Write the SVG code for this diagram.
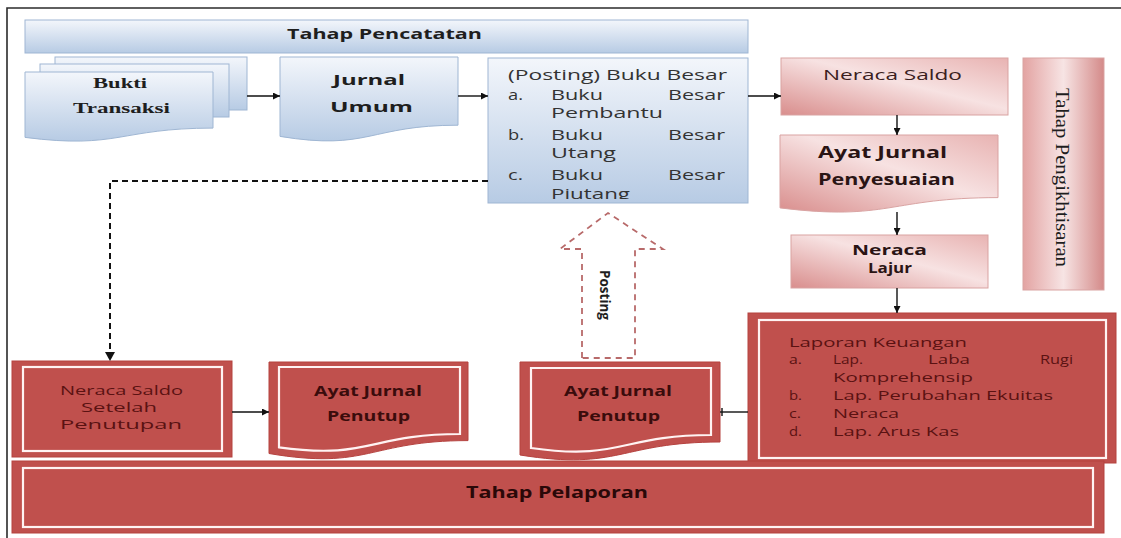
<svg xmlns="http://www.w3.org/2000/svg" width="1121" height="538" viewBox="0 0 1121 538">
<style>
.frame{stroke:#2b2b2b;stroke-width:1.6;fill:none}
.blue{fill:url(#blueGrad);stroke:#9fb6d3;stroke-width:1}
.pink{fill:url(#pinkGrad);stroke:#d9a3a2;stroke-width:1}
.pinkv{fill:url(#pinkGradV);stroke:#d9a3a2;stroke-width:1}
.red{fill:#c0504d;stroke:#b5423f;stroke-width:1}
.inner{fill:none;stroke:#fff3f3;stroke-width:2.2}
.conn{stroke:#111;stroke-width:1.4;fill:none}
.dash{stroke:#111;stroke-width:2;fill:none;stroke-dasharray:6 4}
.post{fill:#fff;stroke:#b86a6a;stroke-width:1.8;stroke-dasharray:6 5}
.sb{font-family:"Open Sans","DejaVu Sans",sans-serif;font-weight:bold;fill:#1e1e1e}
.sn{font-family:"Open Sans","DejaVu Sans",sans-serif;fill:#333}
.ser{font-family:"Liberation Serif","Times New Roman",serif;fill:#1e1e1e}
.rt{font-family:"Open Sans","DejaVu Sans",sans-serif;fill:#5a1212}
.rb{font-family:"Open Sans","DejaVu Sans",sans-serif;font-weight:bold;fill:#3a0c0c}
</style>
<defs>
<linearGradient id="blueGrad" x1="0" y1="0" x2="0" y2="1">
<stop offset="0" stop-color="#f3f6fb"/>
<stop offset="1" stop-color="#b7cbe4"/>
</linearGradient>
<linearGradient id="pinkGrad" x1="0" y1="1" x2="1" y2="0">
<stop offset="0" stop-color="#d98e8d"/>
<stop offset="0.55" stop-color="#f7e2e2"/>
<stop offset="1" stop-color="#e8b3b2"/>
</linearGradient>
<linearGradient id="pinkGradV" x1="0" y1="0" x2="1" y2="0">
<stop offset="0" stop-color="#e3a3a2"/>
<stop offset="0.5" stop-color="#f7e4e4"/>
<stop offset="1" stop-color="#d48a89"/>
</linearGradient>
<marker id="arr" viewBox="0 0 10 10" refX="10" refY="5" markerWidth="7" markerHeight="7" markerUnits="userSpaceOnUse" orient="auto">
<path d="M0,0 L10,5 L0,10 Z" fill="#111"/>
</marker>
<clipPath id="bbClip"><rect x="488" y="58" width="260" height="141"/></clipPath>
</defs>

<rect x="0" y="0" width="1121" height="538" fill="#ffffff"/>
<path class="frame" d="M7,538 V8 H1121"/>

<g id="tahap-pencatatan">
<rect class="blue" x="25" y="20" width="723" height="33"/>
<text class="sb" x="287" y="39" font-size="14" textLength="195" lengthAdjust="spacingAndGlyphs">Tahap Pencatatan</text>
</g>

<g id="bukti-transaksi">
<rect class="blue" x="55" y="57" width="192" height="53"/>
<rect class="blue" x="40" y="64" width="189" height="53"/>
<path class="blue" d="M25,72 H213 V128.1 C119,128.1 119,149.5 25,137.4 Z"/>
<text class="ser" font-weight="bold" x="93" y="88" font-size="15" textLength="54" lengthAdjust="spacingAndGlyphs">Bukti</text>
<text class="ser" font-weight="bold" x="73" y="113" font-size="15" textLength="97" lengthAdjust="spacingAndGlyphs">Transaksi</text>
</g>

<g id="jurnal-umum">
<path class="blue" d="M280,57 H458 V125.2 C369,125.2 369,151.1 280,136.4 Z"/>
<text class="sb" x="333" y="85" font-size="14.5" textLength="72" lengthAdjust="spacingAndGlyphs">Jurnal</text>
<text class="sb" x="330" y="112" font-size="14.5" textLength="83" lengthAdjust="spacingAndGlyphs">Umum</text>
</g>

<g id="buku-besar">
<rect class="blue" x="488" y="58" width="260" height="145"/>
<g clip-path="url(#bbClip)" font-size="15">
<text class="sn" x="508" y="80" textLength="219" lengthAdjust="spacingAndGlyphs">(Posting) Buku Besar</text>
<text class="sn" x="508" y="100" textLength="15" lengthAdjust="spacingAndGlyphs">a.</text>
<text class="sn" x="551" y="100" textLength="52" lengthAdjust="spacingAndGlyphs">Buku</text>
<text class="sn" x="668" y="100" textLength="57" lengthAdjust="spacingAndGlyphs">Besar</text>
<text class="sn" x="551" y="118" textLength="112" lengthAdjust="spacingAndGlyphs">Pembantu</text>
<text class="sn" x="508" y="140" textLength="16" lengthAdjust="spacingAndGlyphs">b.</text>
<text class="sn" x="551" y="140" textLength="52" lengthAdjust="spacingAndGlyphs">Buku</text>
<text class="sn" x="668" y="140" textLength="57" lengthAdjust="spacingAndGlyphs">Besar</text>
<text class="sn" x="551" y="158" textLength="65" lengthAdjust="spacingAndGlyphs">Utang</text>
<text class="sn" x="508" y="180" textLength="15" lengthAdjust="spacingAndGlyphs">c.</text>
<text class="sn" x="551" y="180" textLength="52" lengthAdjust="spacingAndGlyphs">Buku</text>
<text class="sn" x="668" y="180" textLength="57" lengthAdjust="spacingAndGlyphs">Besar</text>
<text class="sn" x="551" y="199" textLength="79" lengthAdjust="spacingAndGlyphs">Piutang</text>
</g>
</g>

<g id="neraca-saldo">
<rect class="pink" x="781" y="58" width="227" height="57"/>
<text class="sn" x="823" y="80" font-size="15" textLength="139" lengthAdjust="spacingAndGlyphs" style="fill:#3a2020">Neraca Saldo</text>
</g>

<g id="ayat-jurnal-penyesuaian">
<path class="pink" d="M780,135 H998 V197.6 C889,197.6 889,221.4 780,207.9 Z"/>
<text class="sb" x="818" y="158" font-size="15.5" textLength="129" lengthAdjust="spacingAndGlyphs" style="fill:#2a1414">Ayat Jurnal</text>
<text class="sb" x="818" y="185" font-size="15.5" textLength="137" lengthAdjust="spacingAndGlyphs" style="fill:#2a1414">Penyesuaian</text>
</g>

<g id="neraca-lajur">
<rect class="pink" x="791" y="235" width="197" height="53"/>
<text class="sb" x="852" y="255" font-size="14.5" textLength="75" lengthAdjust="spacingAndGlyphs" style="fill:#2a1414">Neraca</text>
<text class="sb" x="868" y="273" font-size="14.5" textLength="44" lengthAdjust="spacingAndGlyphs" style="fill:#2a1414">Lajur</text>
</g>

<g id="tahap-pengikhtisaran">
<rect class="pinkv" x="1023" y="58" width="81" height="232"/>
<text class="ser" transform="translate(1056,88) rotate(90)" x="0" y="0" font-size="18" textLength="179" lengthAdjust="spacingAndGlyphs">Tahap Pengikhtisaran</text>
</g>

<g id="laporan-keuangan">
<rect class="red" x="748" y="313" width="368" height="150"/>
<rect class="inner" x="759" y="320" width="347" height="138"/>
<g font-size="13.5">
<text class="rt" x="789" y="347" textLength="178" lengthAdjust="spacingAndGlyphs">Laporan Keuangan</text>
<text class="rt" x="789" y="364" textLength="13" lengthAdjust="spacingAndGlyphs">a.</text>
<text class="rt" x="833" y="364" textLength="30" lengthAdjust="spacingAndGlyphs">Lap.</text>
<text class="rt" x="928" y="364" textLength="42" lengthAdjust="spacingAndGlyphs">Laba</text>
<text class="rt" x="1040" y="364" textLength="33" lengthAdjust="spacingAndGlyphs">Rugi</text>
<text class="rt" x="833" y="382" textLength="140" lengthAdjust="spacingAndGlyphs">Komprehensip</text>
<text class="rt" x="789" y="400" textLength="13" lengthAdjust="spacingAndGlyphs">b.</text>
<text class="rt" x="833" y="400" textLength="220" lengthAdjust="spacingAndGlyphs">Lap. Perubahan Ekuitas</text>
<text class="rt" x="789" y="418" textLength="12" lengthAdjust="spacingAndGlyphs">c.</text>
<text class="rt" x="833" y="418" textLength="66" lengthAdjust="spacingAndGlyphs">Neraca</text>
<text class="rt" x="789" y="436" textLength="13" lengthAdjust="spacingAndGlyphs">d.</text>
<text class="rt" x="833" y="436" textLength="126" lengthAdjust="spacingAndGlyphs">Lap. Arus Kas</text>
</g>
</g>

<g id="neraca-saldo-setelah-penutupan">
<rect class="red" x="12" y="361" width="220" height="96"/>
<rect class="inner" x="23" y="367" width="199" height="84"/>
<text class="rt" x="60" y="395" font-size="13.5" textLength="123" lengthAdjust="spacingAndGlyphs">Neraca Saldo</text>
<text class="rt" x="81" y="412" font-size="13.5" textLength="76" lengthAdjust="spacingAndGlyphs">Setelah</text>
<text class="rt" x="60" y="429" font-size="13.5" textLength="122" lengthAdjust="spacingAndGlyphs">Penutupan</text>
</g>

<g id="ayat-jurnal-penutup-1">
<path class="red" d="M269,362 H468 V440.6 C368.5,440.6 368.5,470.5 269,453.5 Z"/>
<path class="inner" d="M279,367 H460 V434 C369.5,434 369.5,460 279,447.3 Z"/>
<text class="rb" x="314" y="396" font-size="13.5" textLength="108" lengthAdjust="spacingAndGlyphs">Ayat Jurnal</text>
<text class="rb" x="327" y="421" font-size="13.5" textLength="83" lengthAdjust="spacingAndGlyphs">Penutup</text>
</g>

<g id="ayat-jurnal-penutup-2">
<path class="red" d="M520,362 H720 V442 C620,442 620,471 520,455 Z"/>
<path class="inner" d="M531,368 H711 V435 C621,435 621,461 531,448 Z"/>
<text class="rb" x="564" y="396" font-size="13.5" textLength="108" lengthAdjust="spacingAndGlyphs">Ayat Jurnal</text>
<text class="rb" x="577" y="421" font-size="13.5" textLength="83" lengthAdjust="spacingAndGlyphs">Penutup</text>
</g>

<g id="tahap-pelaporan">
<rect class="red" x="12" y="461" width="1092" height="72"/>
<rect class="inner" x="23" y="468" width="1070" height="59"/>
<text class="rb" x="466" y="498" font-size="15.5" textLength="182" lengthAdjust="spacingAndGlyphs" style="fill:#2a0808">Tahap Pelaporan</text>
</g>

<g id="posting-arrow">
<path class="post" d="M582,358 V249 H560 L608,213 L663,249 H635 V358 Z"/>
<text class="sb" transform="translate(600,270) rotate(90)" x="0" y="0" font-size="15" textLength="50" lengthAdjust="spacingAndGlyphs">Posting</text>
</g>

<g id="connectors">
<line class="conn" x1="247" y1="96" x2="280" y2="96" marker-end="url(#arr)"/>
<line class="conn" x1="458" y1="96" x2="488" y2="96" marker-end="url(#arr)"/>
<line class="conn" x1="748" y1="96" x2="781" y2="96" marker-end="url(#arr)"/>
<line class="conn" x1="897" y1="115" x2="897" y2="135" marker-end="url(#arr)"/>
<line class="conn" x1="897" y1="212" x2="897" y2="235" marker-end="url(#arr)"/>
<line class="conn" x1="897" y1="288" x2="897" y2="313" marker-end="url(#arr)"/>
<line class="conn" x1="232" y1="412" x2="269" y2="412" marker-end="url(#arr)"/>
<line class="conn" x1="748" y1="412" x2="720" y2="412"/>
<line class="conn" x1="722" y1="408" x2="722" y2="416"/>
<path class="dash" d="M488,181 H110 V352"/>
<path d="M105,352 L115,352 L110,361 Z" fill="#111"/>
</g>
</svg>
